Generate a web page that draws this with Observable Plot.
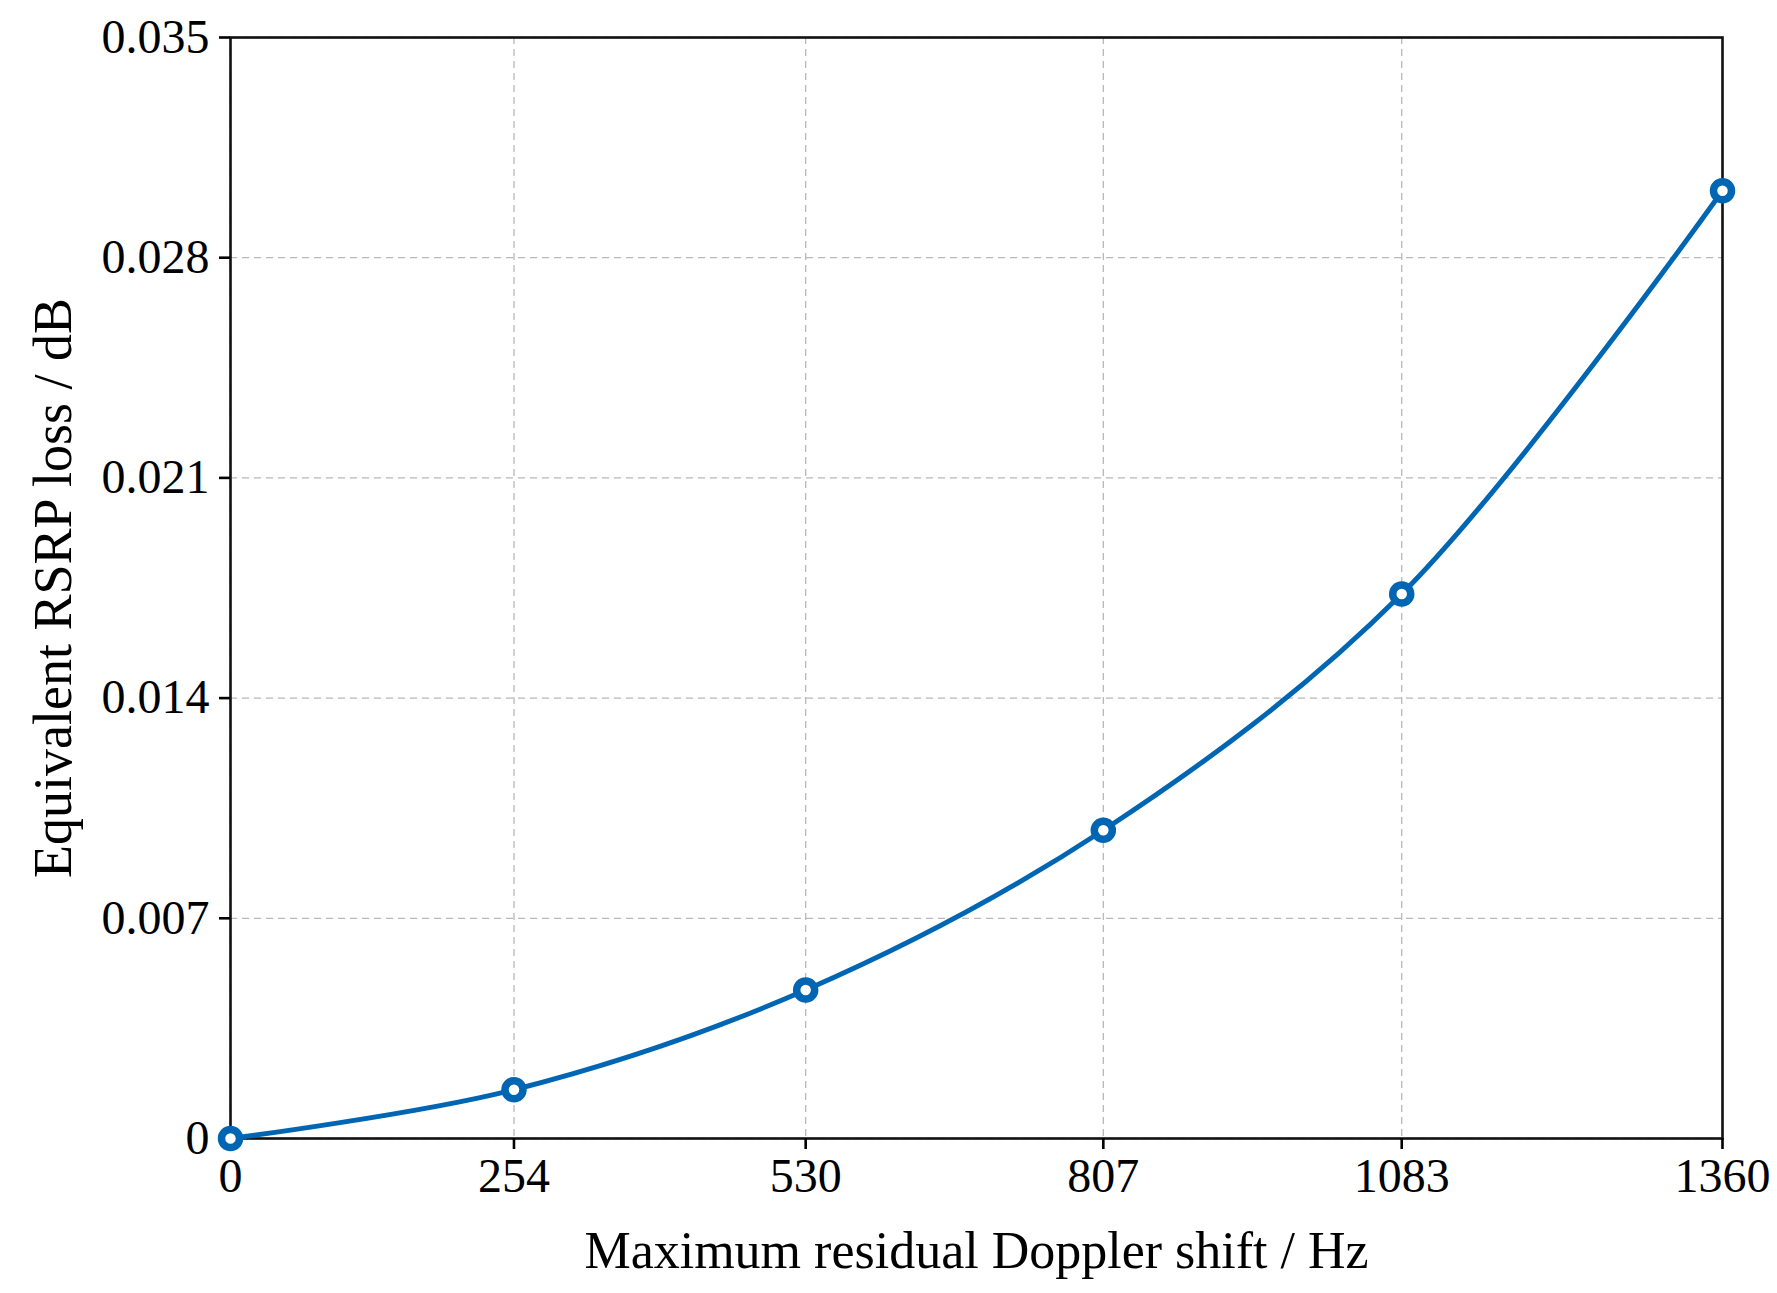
<!DOCTYPE html>
<html>
<head>
<meta charset="utf-8">
<script src="https://cdn.jsdelivr.net/npm/d3@7"></script>
<script src="https://cdn.jsdelivr.net/npm/@observablehq/plot@0.6"></script>
<style>
  html, body { margin: 0; padding: 0; background: #fff; }
  #chart svg { display: block; }
</style>
</head>
<body>
<div id="chart"></div>
<script>
// Data
const dopplerHz = [0, 254, 530, 807, 1083, 1360];
const rsrpLossDb = [0, 0.00155, 0.00472, 0.0098, 0.01731, 0.03013];
const xTicks = [0, 254, 530, 807, 1083, 1360];
const yTicks = [0, 0.007, 0.014, 0.021, 0.028, 0.035];
const xLabel = "Maximum residual Doppler shift / Hz";
const yLabel = "Equivalent RSRP loss / dB";

const data = dopplerHz.map((x, i) => ({x, y: rsrpLossDb[i]}));

const W = 1777, H = 1293;
// the reference's x ticks are not spaced in proportion to their labels;
// a piecewise warp reproduces their positions along the axis
const xRangeFrac = [0, 0.19, 0.3855, 0.585, 0.785, 1];
const warp = d3.scaleLinear().domain(xTicks).range(xRangeFrac.map(f => f * 1360));

const blue = "#0066b3";
const font = "'Liberation Serif', 'DejaVu Serif', serif";

const chart = Plot.plot({
  width: W,
  height: H,
  marginLeft: 230,
  marginRight: 55,
  marginTop: 37,
  marginBottom: 155,
  style: {fontFamily: font, fontSize: "48px", color: "#000", background: "#fff"},
  x: {domain: [0, 1360], transform: warp},
  y: {domain: [0, 0.035]},
  marks: [
    Plot.gridX(xTicks, {stroke: "#b8b8b8", strokeOpacity: 1, strokeWidth: 1.3, strokeDasharray: "7,5"}),
    Plot.gridY(yTicks, {stroke: "#b8b8b8", strokeOpacity: 1, strokeWidth: 1.3, strokeDasharray: "7,5"}),
    Plot.frame({stroke: "#111", strokeWidth: 2.6}),
    Plot.axisX(xTicks, {tickSize: 11, tickPadding: 8, tickFormat: d => String(d),
      strokeWidth: 2.6, fontSize: 48, label: null}),
    Plot.axisX({ticks: [], tickSize: 0, label: xLabel, labelAnchor: "center", labelOffset: 129,
      labelArrow: "none", fontSize: 52, dx: -11}),
    Plot.axisY(yTicks, {tickSize: 11, tickPadding: 10,
      tickFormat: d => d === 0 ? "0" : d3.format(".3f")(d),
      strokeWidth: 2.6, fontSize: 48, label: null}),
    Plot.axisY({ticks: [], tickSize: 0, label: yLabel, labelAnchor: "center", labelOffset: 198,
      labelArrow: "none", fontSize: 54}),
    Plot.line(data, {x: "x", y: "y", stroke: blue, strokeWidth: 5, curve: "catmull-rom"}),
    Plot.dot(data, {x: "x", y: "y", r: 9, fill: "white", stroke: blue, strokeWidth: 7.5})
  ]
});

document.getElementById("chart").appendChild(chart);
</script>
</body>
</html>
